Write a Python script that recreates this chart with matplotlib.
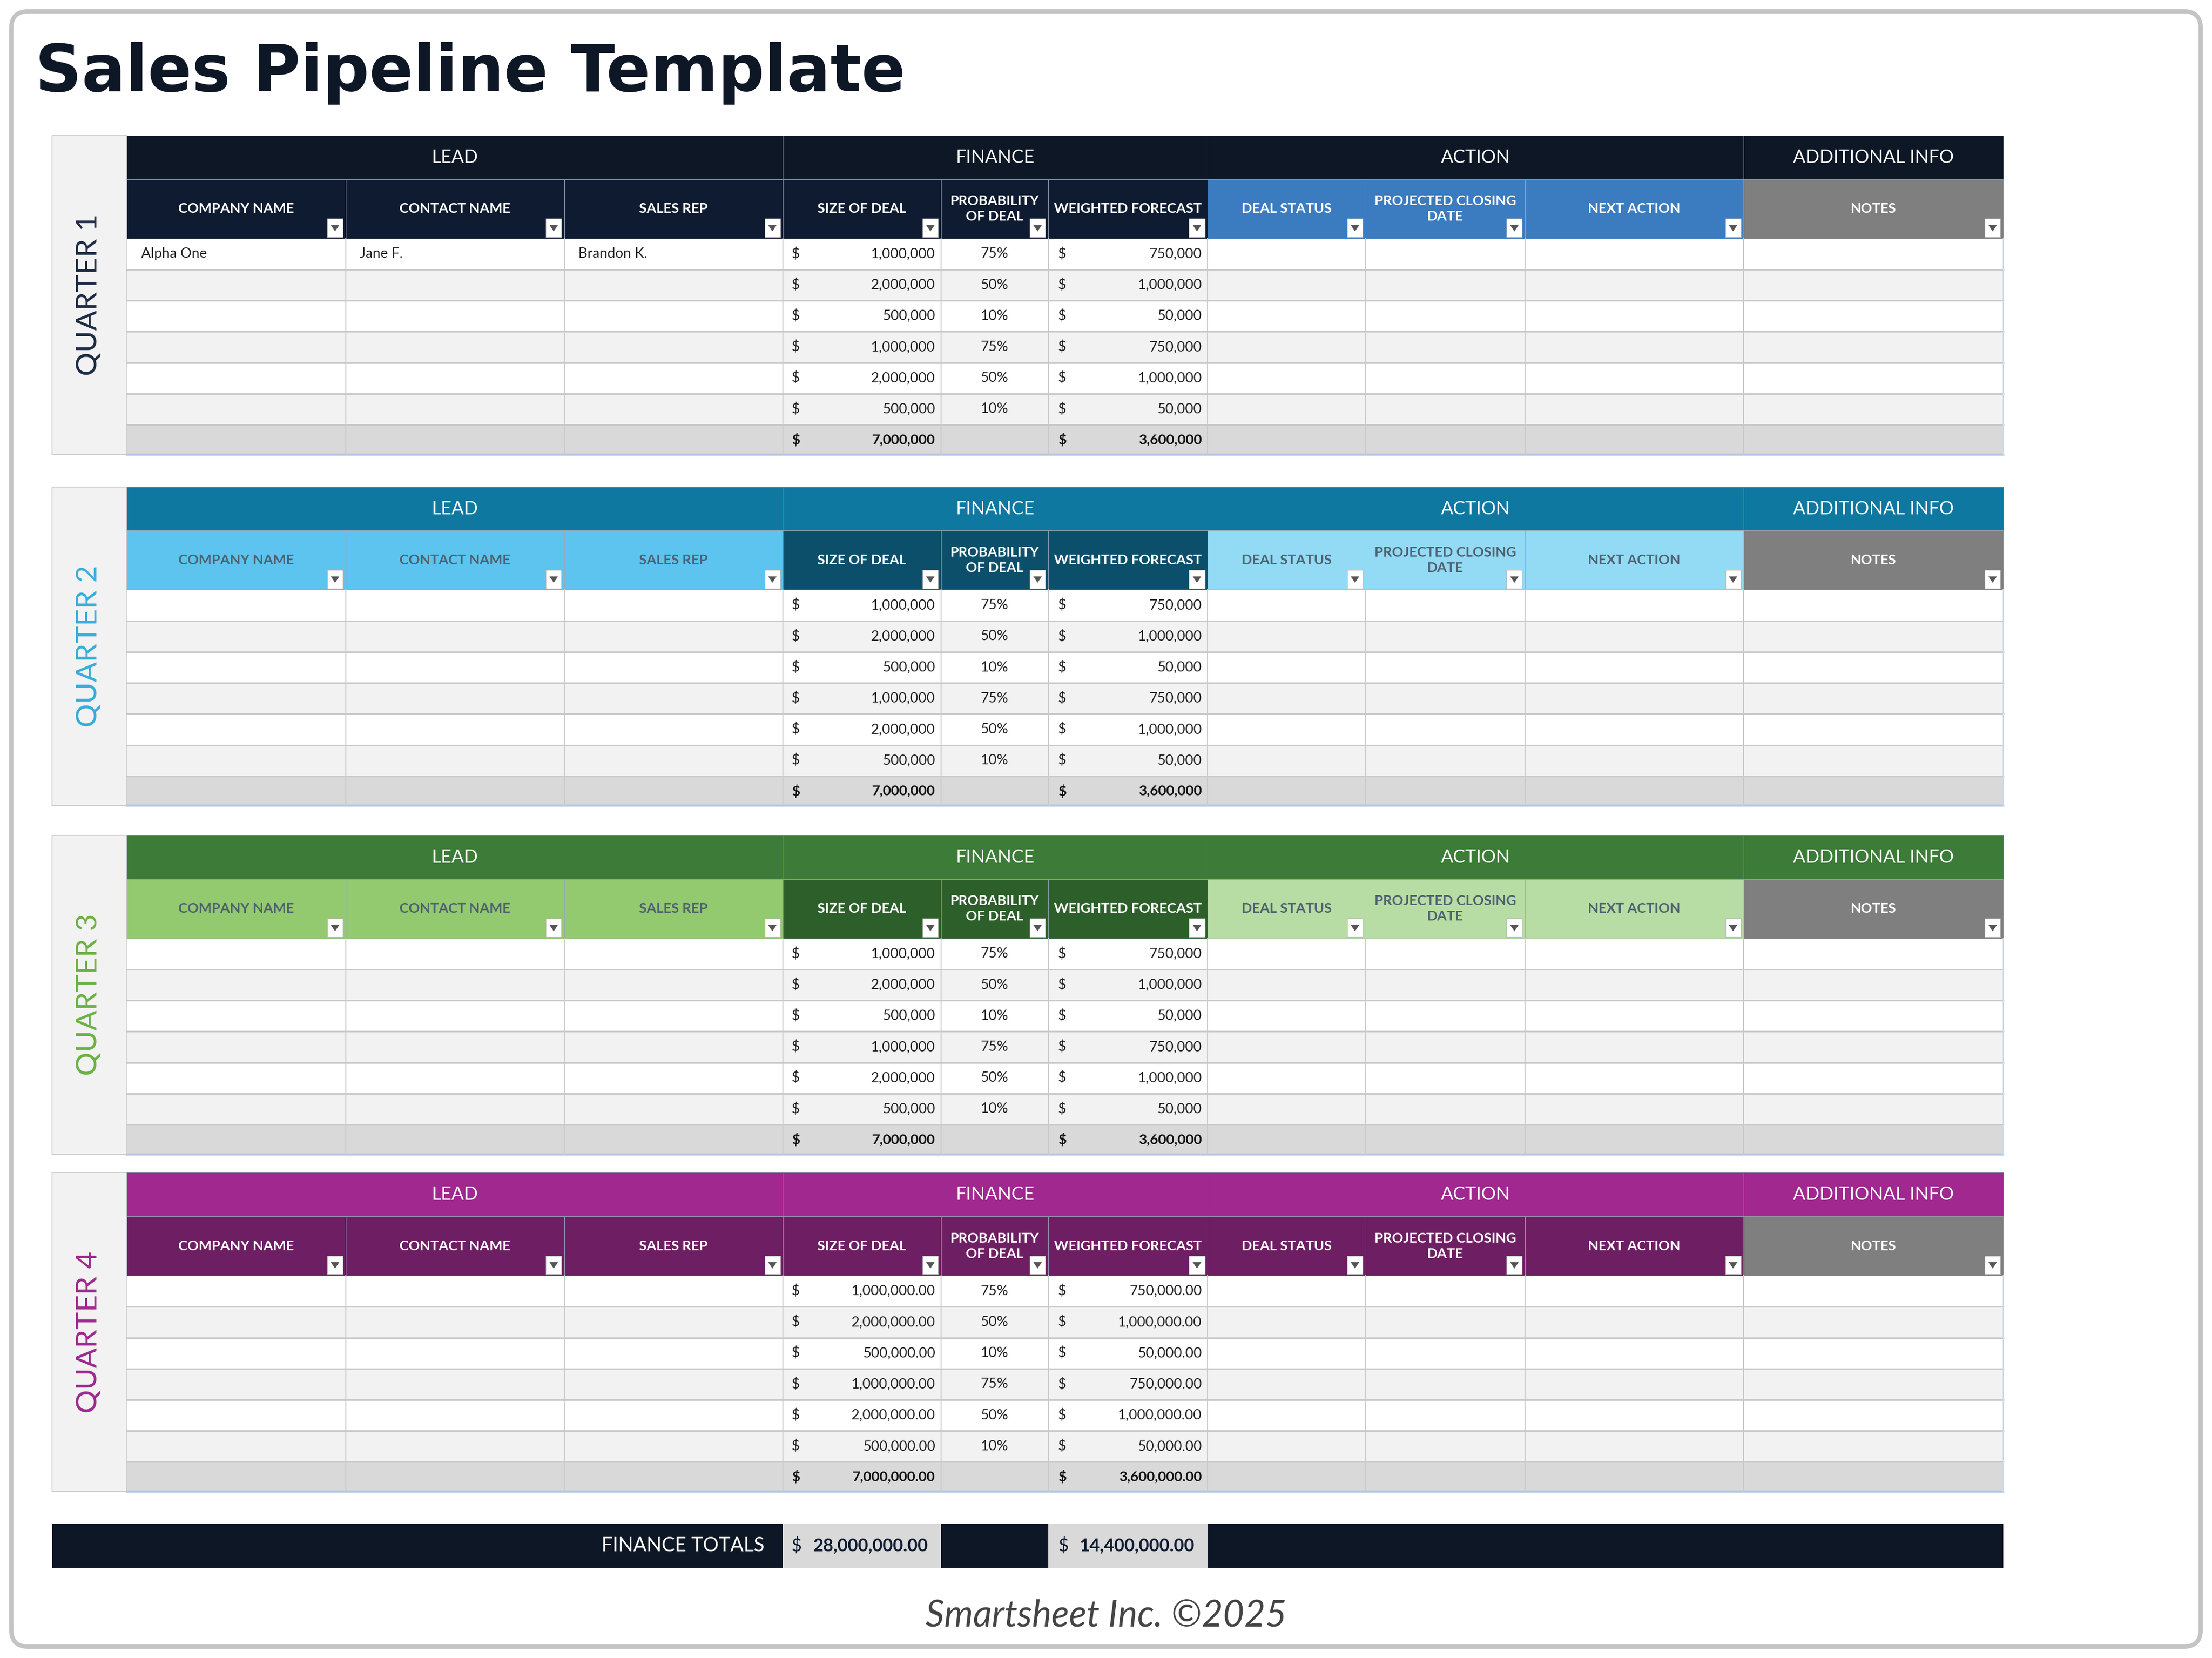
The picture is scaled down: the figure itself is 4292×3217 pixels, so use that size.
import matplotlib
matplotlib.use("Agg")
import matplotlib.pyplot as plt
from matplotlib.patches import Rectangle, FancyBboxPatch, Polygon

# ---------------- data ----------------
quarters = ["QUARTER 1", "QUARTER 2", "QUARTER 3", "QUARTER 4"]
groups = ["LEAD", "FINANCE", "ACTION", "ADDITIONAL INFO"]
columns = ["COMPANY NAME", "CONTACT NAME", "SALES REP", "SIZE OF DEAL",
           "PROBABILITY\nOF DEAL", "WEIGHTED FORECAST", "DEAL STATUS",
           "PROJECTED CLOSING\nDATE", "NEXT ACTION", "NOTES"]
company = ["Alpha One", "", "", "", "", ""]
contact = ["Jane F.", "", "", "", "", ""]
sales_rep = ["Brandon K.", "", "", "", "", ""]
deal_size = [1000000, 2000000, 500000, 1000000, 2000000, 500000]
probability = [75, 50, 10, 75, 50, 10]
weighted = [750000, 1000000, 50000, 750000, 1000000, 50000]
deal_total = 7000000
weighted_total = 3600000
finance_total_deal = 28000000
finance_total_weighted = 14400000

# ---------------- layout (display units, 1568 x 1175) ----------------
W, H = 1568, 1175
S = 4292 / W
def fs(px):
    return px * S * 0.72

xb = [90, 245, 400, 555, 667, 743, 856, 968, 1081, 1236, 1420]
group_span = [(0, 3), (3, 6), (6, 9), (9, 10)]
tops = [96, 345, 592, 831]

themes = [
    dict(grp="#0E1726", lead="#0E1B30", fin="#0E1B30", act="#3B7CC0",
         lab="#1C2A44", lead_txt="white", act_txt="white"),
    dict(grp="#0E78A0", lead="#5CC4EE", fin="#0C4F6B", act="#93DAF5",
         lab="#36ADDC", lead_txt="#4F6270", act_txt="#4F6270"),
    dict(grp="#3D7C38", lead="#93C96F", fin="#2D5F2A", act="#B7DDA4",
         lab="#6AB244", lead_txt="#4F6270", act_txt="#4F6270"),
    dict(grp="#A0288F", lead="#6E1E63", fin="#6E1E63", act="#6E1E63",
         lab="#A0288F", lead_txt="white", act_txt="white"),
]

fig = plt.figure(figsize=(42.92, 32.17), dpi=100)
ax = fig.add_axes([0, 0, 1, 1])
ax.set_xlim(0, W)
ax.set_ylim(H, 0)
ax.axis("off")

FONT = "Lato"

def rect(x0, y0, x1, y1, fc, ec="none", lw=0, z=1):
    ax.add_patch(Rectangle((x0, y0), x1 - x0, y1 - y0, facecolor=fc,
                           edgecolor=ec, linewidth=lw, zorder=z))

# outer frame
ax.add_patch(FancyBboxPatch((8, 8), W - 16, H - 16, boxstyle="round,pad=0,rounding_size=12",
                            facecolor="white", edgecolor="#C4C4C4", linewidth=6, zorder=0))

ax.text(25, 52, "Sales Pipeline Template", fontsize=fs(46), fontweight="bold",
        color="#0E1726", va="center", ha="left", family="DejaVu Sans")

def money(v, dec):
    return f"{v:,.2f}" if dec else f"{v:,.0f}"

def dropdown(xr, yb):
    rect(xr - 13, yb - 14, xr - 2, yb - 1, "white", "#BBBBBB", 0.8, z=4)
    cx, cy = xr - 7.5, yb - 7.5
    ax.add_patch(Polygon([(cx - 3, cy - 2), (cx + 3, cy - 2), (cx, cy + 2.5)],
                         closed=True, facecolor="#555555", edgecolor="none", zorder=5))

for qi, top in enumerate(tops):
    t = themes[qi]
    dec = (qi == 3)
    g0, g1 = top, top + 31
    c1 = top + 73
    rh = 22
    bottom = c1 + 7 * rh - 1
    # quarter label column
    rect(37, top, 90, bottom, "#F2F2F2", "#C8C8C8", 1.2, z=1)
    ax.text(63, (top + bottom) / 2, quarters[qi], rotation=90,
            fontsize=fs(21), color=t["lab"], ha="center", va="center", family=FONT)
    # group headers
    for gi, (a, b) in enumerate(group_span):
        rect(xb[a], g0, xb[b], g1, t["grp"], "#6E7F96", 0.6, z=2)
        ax.text((xb[a] + xb[b]) / 2, (g0 + g1) / 2, groups[gi], color="white",
                fontsize=fs(13), ha="center", va="center", family=FONT, zorder=3)
    # column headers
    for ci in range(10):
        if ci < 3:
            fc, tc = t["lead"], t["lead_txt"]
        elif ci < 6:
            fc, tc = t["fin"], "white"
        elif ci < 9:
            fc, tc = t["act"], t["act_txt"]
        else:
            fc, tc = "#7F7F7F", "white"
        rect(xb[ci], g1, xb[ci + 1], c1, fc, "#9AA8B8", 0.6, z=2)
        ax.text((xb[ci] + xb[ci + 1]) / 2, (g1 + c1) / 2, columns[ci], color=tc,
                fontsize=fs(9.8), fontweight="bold", ha="center", va="center",
                family=FONT, linespacing=1.3, zorder=3)
        dropdown(xb[ci + 1], c1)
    # data rows
    for r in range(6):
        y0 = c1 + r * rh
        rect(90, y0, 1420, y0 + rh, "white" if r % 2 == 0 else "#F2F2F2", z=1)
        ax.plot([90, 1420], [y0 + rh, y0 + rh], color="#C9C9C9", lw=2.2, zorder=2)
        yc = y0 + rh / 2
        if qi == 0:
            for ci, arr in enumerate([company, contact, sales_rep]):
                ax.text(xb[ci] + 10, yc, arr[r], fontsize=fs(10), va="center",
                        ha="left", color="#222222", family=FONT, zorder=3)
        ax.text(561, yc, "$", fontsize=fs(10), va="center", color="#222222", family=FONT, zorder=3)
        ax.text(663, yc, money(deal_size[r], dec), fontsize=fs(10), va="center",
                ha="right", color="#222222", family=FONT, zorder=3)
        ax.text(705, yc, f"{probability[r]}%", fontsize=fs(10), va="center",
                ha="center", color="#222222", family=FONT, zorder=3)
        ax.text(750, yc, "$", fontsize=fs(10), va="center", color="#222222", family=FONT, zorder=3)
        ax.text(852, yc, money(weighted[r], dec), fontsize=fs(10), va="center",
                ha="right", color="#222222", family=FONT, zorder=3)
    # total row
    y0 = c1 + 6 * rh
    rect(90, y0, 1420, bottom, "#D9D9D9", z=1)
    ax.plot([90, 1420], [bottom, bottom], color="#AFC4E6", lw=3, zorder=2)
    yc = (y0 + bottom) / 2
    ax.text(561, yc, "$", fontsize=fs(10), fontweight="bold", va="center", color="#111111", family=FONT, zorder=3)
    ax.text(663, yc, money(deal_total, dec), fontsize=fs(10), fontweight="bold",
            va="center", ha="right", color="#111111", family=FONT, zorder=3)
    ax.text(750, yc, "$", fontsize=fs(10), fontweight="bold", va="center", color="#111111", family=FONT, zorder=3)
    ax.text(852, yc, money(weighted_total, dec), fontsize=fs(10), fontweight="bold",
            va="center", ha="right", color="#111111", family=FONT, zorder=3)
    # vertical grid lines
    for x in xb[1:-1]:
        ax.plot([x, x], [c1, bottom], color="#C9C9C9", lw=1.5, zorder=2)
    ax.plot([1420, 1420], [c1, bottom], color="#D0D8E8", lw=1.5, zorder=2)

# finance totals bar
ft0, ft1 = 1080, 1111
rect(37, ft0, 555, ft1, "#0E1726", z=1)
rect(555, ft0, 667, ft1, "#D9D9D9", z=1)
rect(667, ft0, 743, ft1, "#0E1726", z=1)
rect(743, ft0, 856, ft1, "#D9D9D9", z=1)
rect(856, ft0, 1420, ft1, "#0E1726", z=1)
ym = (ft0 + ft1) / 2
ax.text(542, ym, "FINANCE TOTALS", color="white", fontsize=fs(14), ha="right",
        va="center", family=FONT, zorder=3)
ax.text(561, ym, "$", color="#0E1B30", fontsize=fs(12.5), va="center", family=FONT, zorder=3)
ax.text(658, ym, money(finance_total_deal, True), color="#0E1B30", fontsize=fs(12.5),
        fontweight="bold", ha="right", va="center", family=FONT, zorder=3)
ax.text(750, ym, "$", color="#0E1B30", fontsize=fs(12.5), va="center", family=FONT, zorder=3)
ax.text(847, ym, money(finance_total_weighted, True), color="#0E1B30", fontsize=fs(12.5),
        fontweight="bold", ha="right", va="center", family=FONT, zorder=3)

ax.text(784, 1145, "Smartsheet Inc. ©2025", color="#444444", fontsize=fs(26),
        style="italic", ha="center", va="center", family=FONT)

fig.savefig("out.png", dpi=100)
